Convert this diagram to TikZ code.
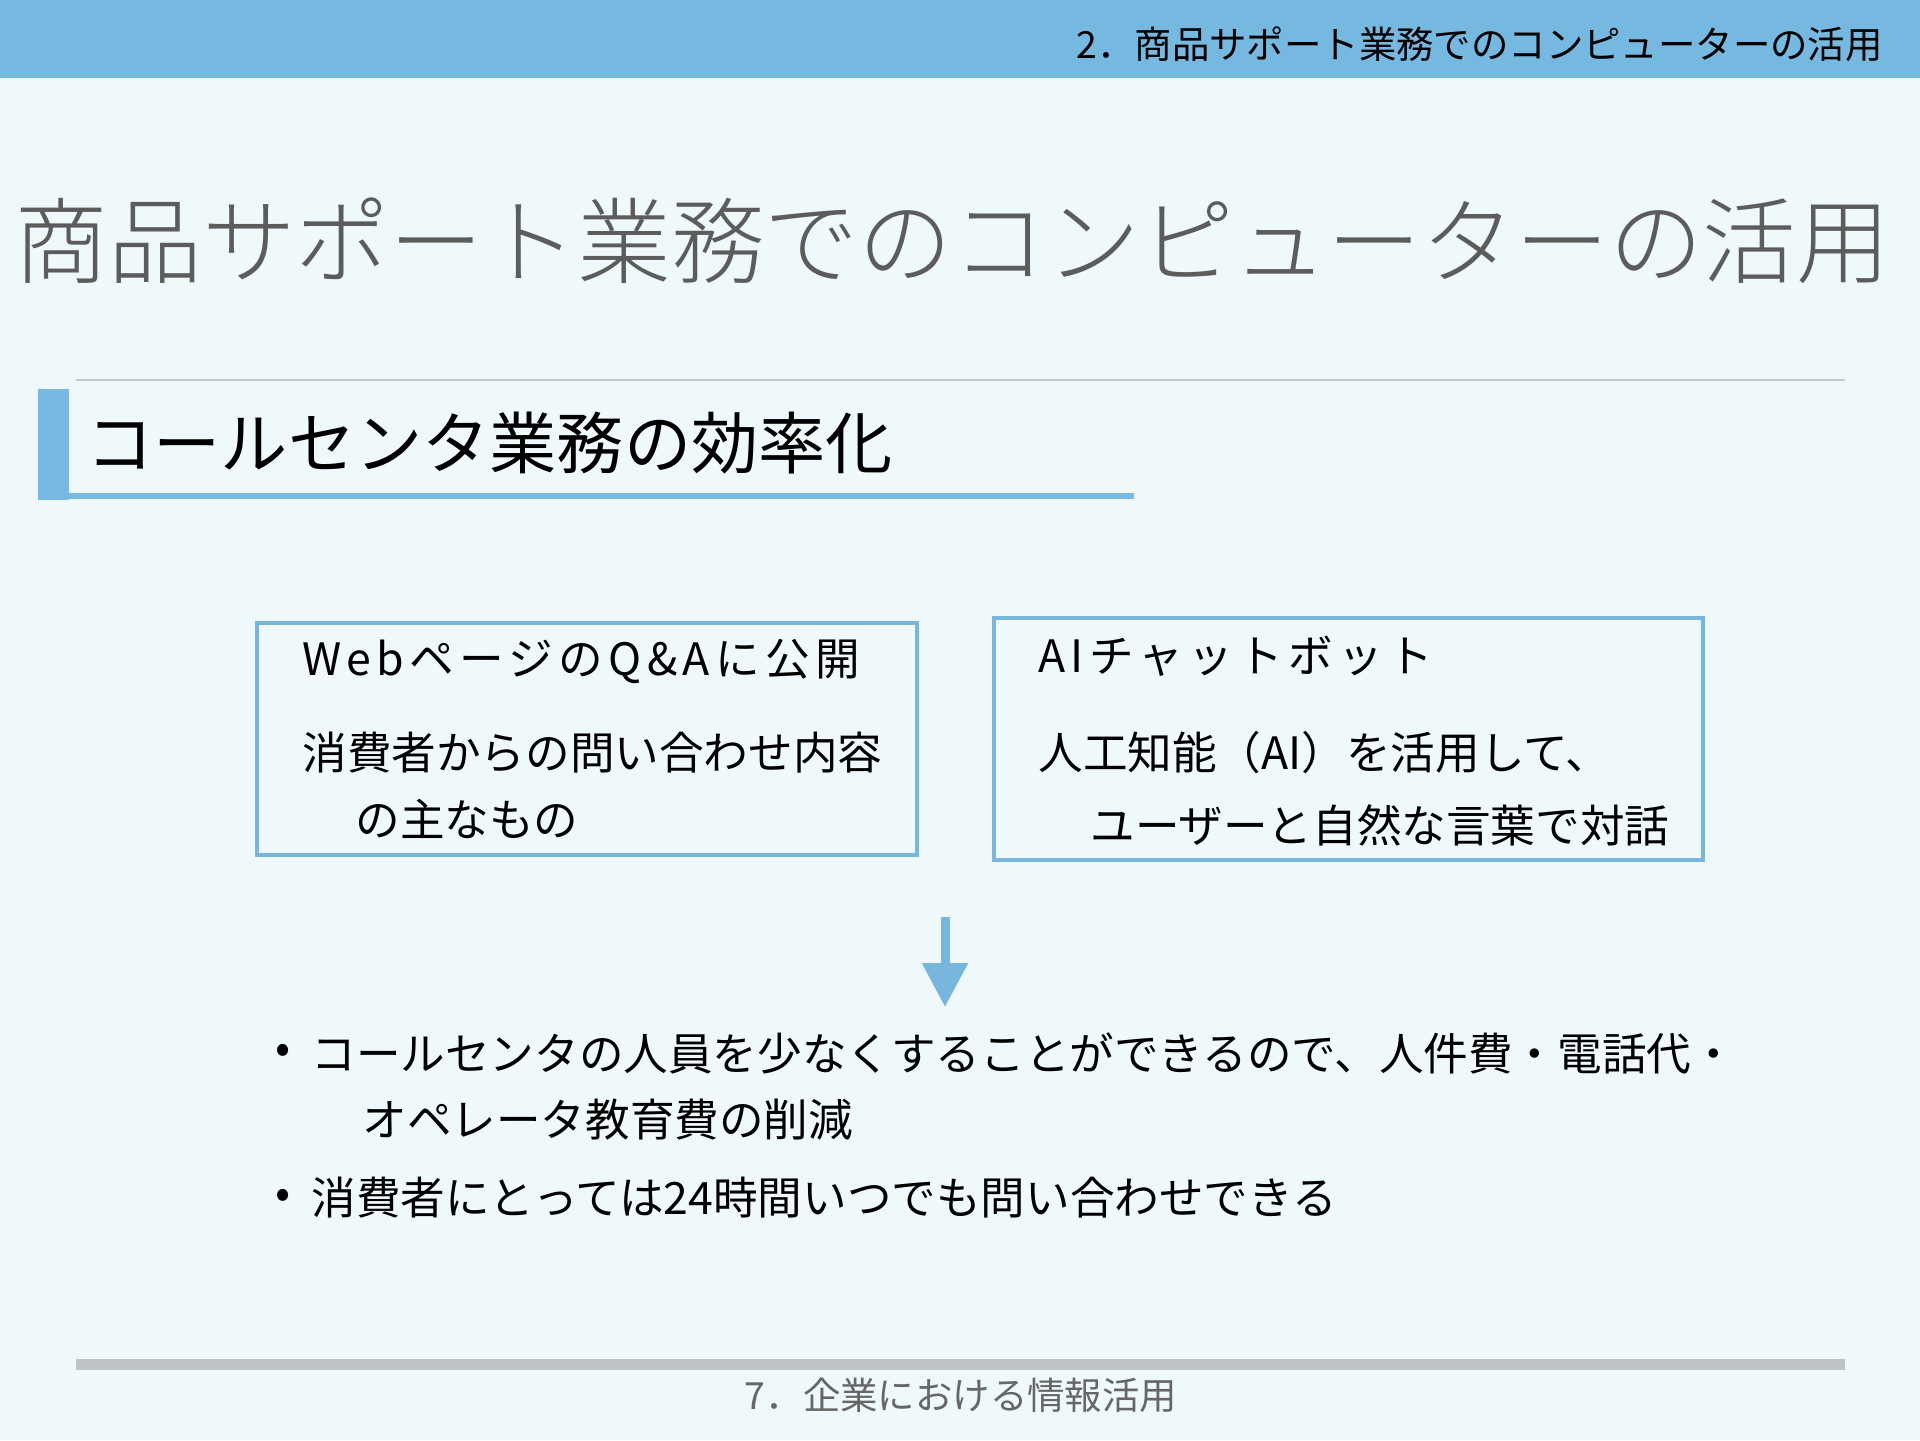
\documentclass[tikz,border=0pt]{standalone}
\usepackage{fontspec}
\setmainfont{Noto Sans CJK JP}
\IfFontExistsTF{Noto Sans CJK JP Light}
  {\newfontfamily\titlefont{Noto Sans CJK JP Light}}
  {\newfontfamily\titlefont{Noto Sans CJK JP}}
\usetikzlibrary{arrows.meta}
\definecolor{bg}{HTML}{EFF8FA}
\definecolor{hdr}{HTML}{75B8E0}
\definecolor{bord}{HTML}{78B7DD}
\definecolor{titlegray}{HTML}{5C5C5C}
\definecolor{footgray}{HTML}{666666}
\definecolor{rulegray}{HTML}{BFC3C5}
\definecolor{thingray}{HTML}{C4C8CA}
\tikzset{
  txt/.style={anchor=west, inner sep=0pt, font=\fontsize{22.3pt}{26pt}\selectfont, text=black},
  boxhead/.style={txt, font=\fontsize{22.3pt}{26pt}\selectfont\addfontfeature{LetterSpace=12}},
  box/.style={draw=bord, line width=2pt, anchor=north west, inner sep=0pt},
  small/.style={inner sep=0pt, font=\fontsize{18.7pt}{22pt}\selectfont}
}
\begin{document}
\begin{tikzpicture}[x=0.5pt,y=-0.5pt]
\useasboundingbox (0,0) rectangle (1920,1440);
\fill[bg] (0,0) rectangle (1920,1440);
% header band
\fill[hdr] (0,0) rectangle (1920,78);
\node[small, anchor=east, text=black] (hdrtext) at (1883,44) {2．商品サポート業務でのコンピューターの活用};
% title
\node[anchor=west, inner sep=0pt, text=titlegray, font=\titlefont\fontsize{46.9pt}{52pt}\selectfont] (title) at (14,241) {商品サポート業務でのコンピューターの活用};
% thin rule
\draw[thingray, line width=1pt] (76,380) -- (1845,380);
% section heading
\fill[hdr] (38,389) rectangle (69,500);
\fill[hdr] (69,493) rectangle (1134,499);
\node[anchor=west, inner sep=0pt, text=black, font=\fontsize{33.6pt}{38pt}\selectfont] (heading) at (86,443) {コールセンタ業務の効率化};
% box 1
\node[box, minimum width=330pt, minimum height=116pt] (box1) at (255,621) {};
\node[boxhead] (b1l1) at (302,662) {WebページのQ\&Aに公開};
\node[txt] (b1l2) at (302,753) {消費者からの問い合わせ内容};
\node[txt] (b1l3) at (355,819) {の主なもの};
% box 2
\node[box, minimum width=354.5pt, minimum height=121pt] (box2) at (992,616) {};
\node[boxhead] (b2l1) at (1038,656) {AIチャットボット};
\node[txt] (b2l2) at (1038,753) {人工知能（AI）を活用して、};
\node[txt] (b2l3) at (1090,825) {ユーザーと自然な言葉で対話};
% arrow
\coordinate (arrS) at (945,917);
\coordinate (arrE) at (945,1007);
\draw[bord, line width=4.5pt, -{Triangle[width=22pt,length=22pt]}] (arrS) -- (arrE);
% bullets
\node[txt] (bul1) at (275,1054) {•};
\node[txt] (p1l1) at (311,1053) {コールセンタの人員を少なくすることができるので、人件費・電話代・};
\node[txt] (p1l2) at (362,1120) {オペレータ教育費の削減};
\node[txt] (bul2) at (275,1199) {•};
\node[txt] (p2l1) at (311,1198) {消費者にとっては24時間いつでも問い合わせできる};
% footer
\fill[rulegray] (76,1359) rectangle (1845,1370);
\node[small, text=footgray] (footer) at (961,1395) {7．企業における情報活用};
\end{tikzpicture}
\end{document}
